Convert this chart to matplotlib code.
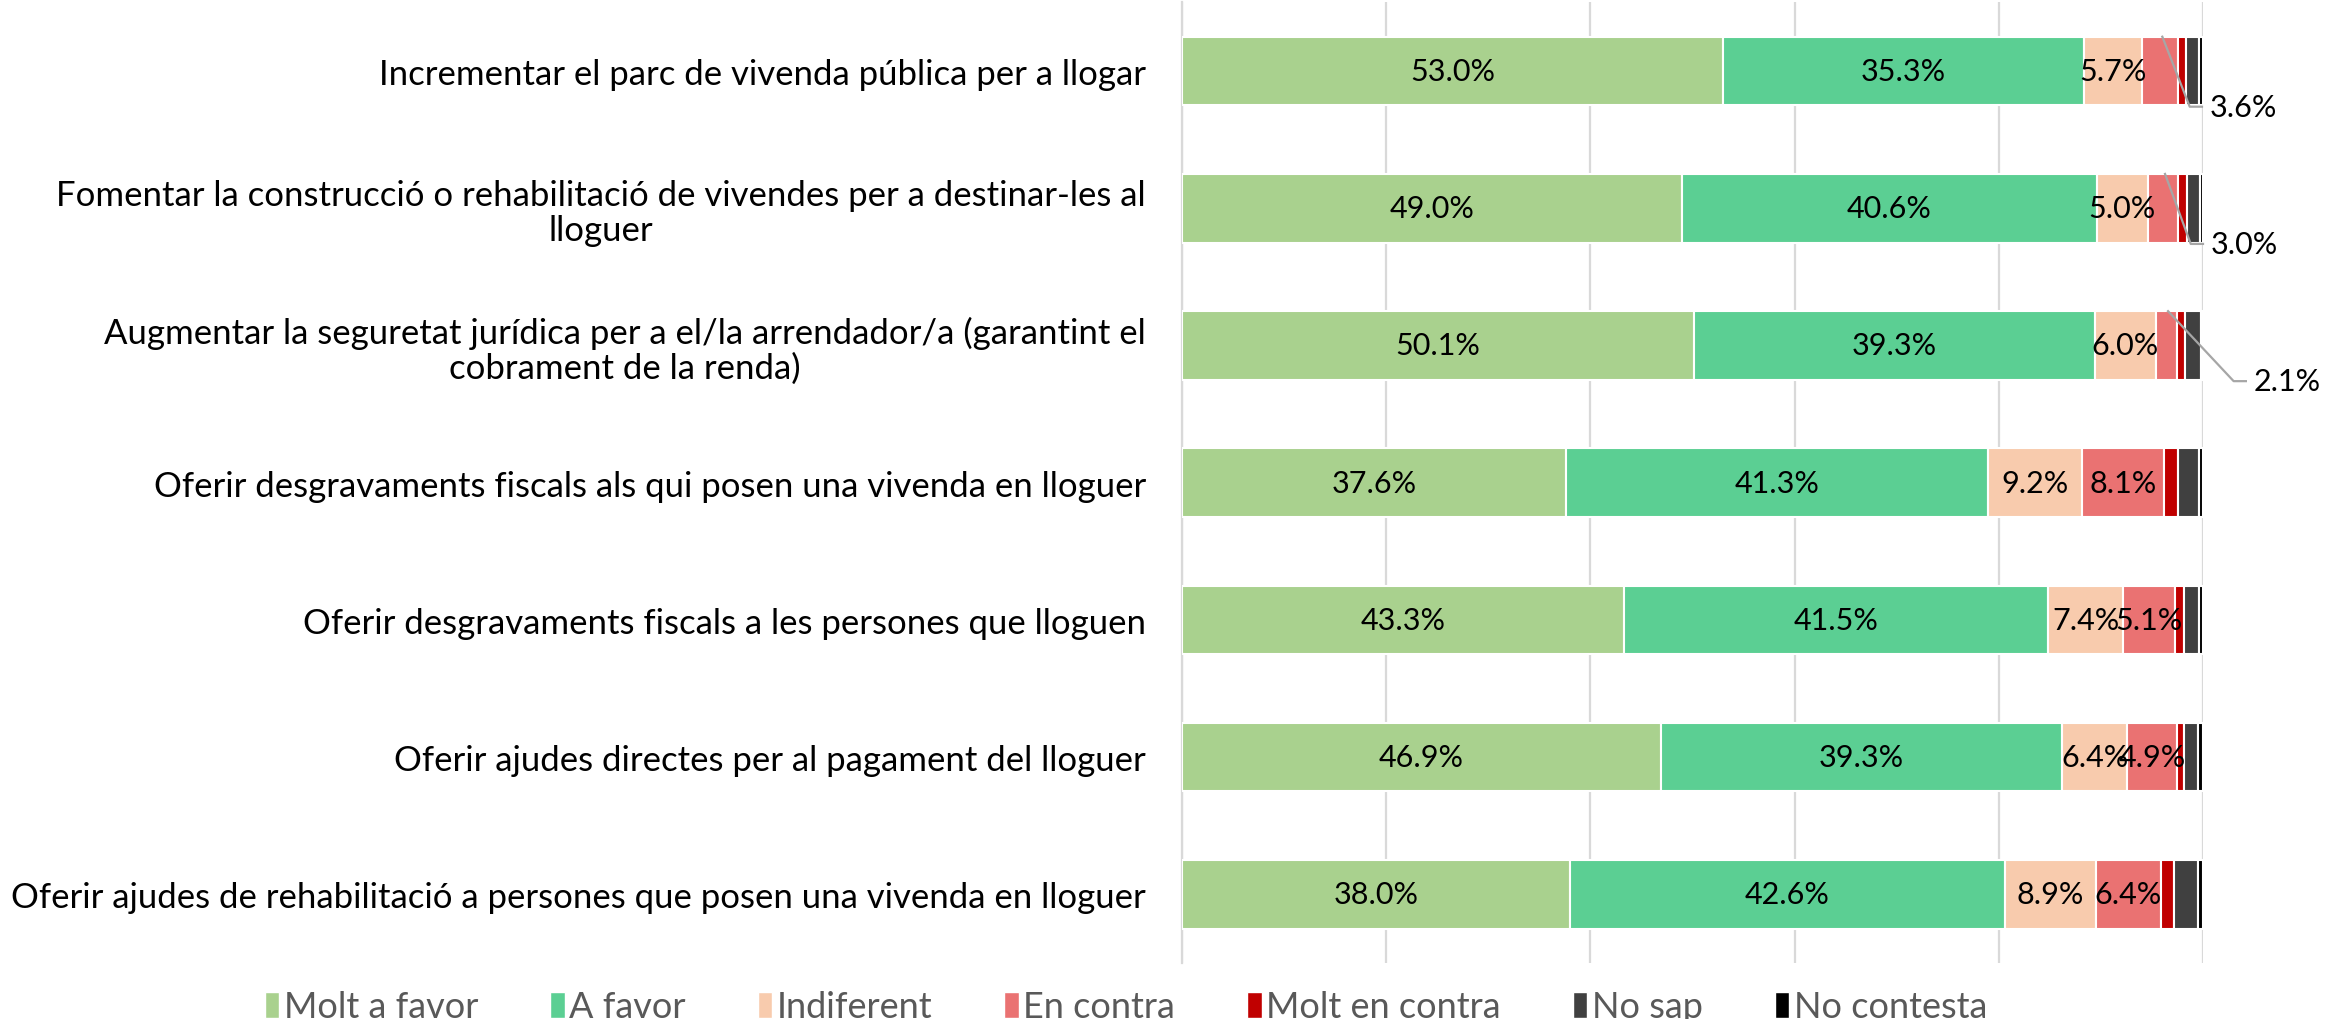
import matplotlib
matplotlib.use("Agg")
import matplotlib.pyplot as plt
from matplotlib.patches import Patch
import numpy as np

categories = [
    "Incrementar el parc de vivenda pública per a llogar",
    "Fomentar la construcció o rehabilitació de vivendes per a destinar-les al\nlloguer",
    "Augmentar la seguretat jurídica per a el/la arrendador/a (garantint el\ncobrament de la renda)",
    "Oferir desgravaments fiscals als qui posen una vivenda en lloguer",
    "Oferir desgravaments fiscals a les persones que lloguen",
    "Oferir ajudes directes per al pagament del lloguer",
    "Oferir ajudes de rehabilitació a persones que posen una vivenda en lloguer",
]
series_names = ["Molt a favor", "A favor", "Indiferent", "En contra",
                "Molt en contra", "No sap", "No contesta"]
molt_favor = [53.0, 49.0, 50.1, 37.6, 43.3, 46.9, 38.0]
a_favor = [35.3, 40.6, 39.3, 41.3, 41.5, 39.3, 42.6]
indiferent = [5.7, 5.0, 6.0, 9.2, 7.4, 6.4, 8.9]
en_contra = [3.6, 3.0, 2.1, 8.1, 5.1, 4.9, 6.4]
molt_contra = [0.7, 0.8, 0.7, 1.4, 0.8, 0.6, 1.3]
no_sap = [1.3, 1.3, 1.6, 2.0, 1.5, 1.4, 2.3]
no_contesta = [0.4, 0.3, 0.2, 0.4, 0.4, 0.5, 0.5]

series = [molt_favor, a_favor, indiferent, en_contra, molt_contra, no_sap, no_contesta]
colors = ["#A9D18E", "#5BCF93", "#F8CBAD", "#EA7272", "#C00000", "#404040", "#000000"]
labelled = [True, True, True, True, False, False, False]

plt.rcParams['font.family'] = ['Lato', 'DejaVu Sans']

fig = plt.figure(figsize=(23.36, 10.20), dpi=100)
ax = fig.add_axes([1182 / 2336, 1 - 964 / 1020, 1021 / 2336, 960.6 / 1020])

y = np.arange(len(categories))
left = np.zeros(len(categories))
bars_all = []
for vals, col in zip(series, colors):
    vals = np.array(vals)
    ax.barh(y, vals, left=left, height=0.5, color=col, edgecolor="white",
            linewidth=1.5, zorder=3)
    bars_all.append((vals, left.copy()))
    left = left + vals

# data labels
callout_rows = [0, 1, 2]
callout_x = [98.7, 98.8, 103.0]
for si, (vals, lefts) in enumerate(bars_all):
    if not labelled[si]:
        continue
    for i in range(len(categories)):
        txt = f"{vals[i]:.1f}%"
        if si == 3 and i in callout_rows:
            k = callout_rows.index(i)
            sx = lefts[i] + 0.56 * vals[i]
            sy = y[i] - 0.25
            cx = callout_x[k]
            cy = y[i] + 0.26
            ax.plot([sx, cx, cx + 1.2], [sy, cy, cy], color="#A6A6A6",
                    lw=1.6, clip_on=False, zorder=5)
            ax.text(cx + 2.0, cy, txt, ha="left", va="center", fontsize=22,
                    color="black", clip_on=False)
        else:
            ax.text(lefts[i] + vals[i] / 2, y[i], txt, ha="center", va="center",
                    fontsize=22, color="black", zorder=6)

ax.set_xlim(0, 100)
ax.set_ylim(len(categories) - 0.5, -0.5)
ax.set_xticks(np.arange(0, 101, 20))
ax.xaxis.grid(True, color="#D9D9D9", lw=1.6, zorder=0)
ax.tick_params(axis="x", length=0, labelbottom=False)
ax.set_yticks(y)
ax.set_yticklabels(categories, fontsize=25, color="black", ha="right",
                   multialignment="center", linespacing=1.12)
ax.tick_params(axis="y", length=0, pad=26)
for s in ["top", "right", "bottom"]:
    ax.spines[s].set_visible(False)
ax.spines["left"].set_color("#D9D9D9")
ax.spines["left"].set_linewidth(1.6)
ax.set_facecolor("none")

handles = [Patch(facecolor=c, edgecolor="white", linewidth=1) for c in colors]
leg = fig.legend(handles, series_names, loc="center", ncol=7,
                 bbox_to_anchor=(1126 / 2336, 1 - 1008 / 1020),
                 frameon=False, fontsize=26, handlelength=0.4, handleheight=0.75,
                 handletextpad=0.12, columnspacing=2.0)
for t in leg.get_texts():
    t.set_color("#595959")

fig.savefig("out.png", dpi=100)
